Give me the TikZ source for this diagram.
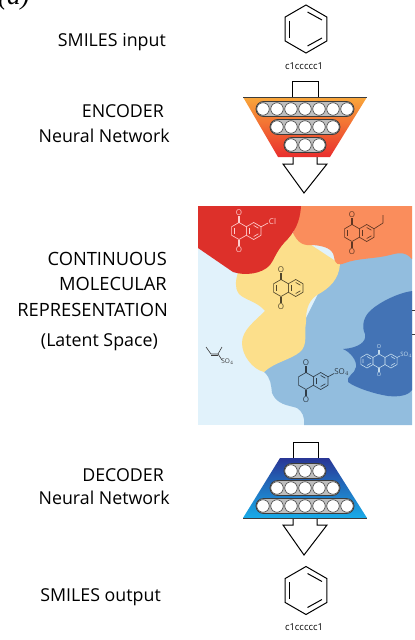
\documentclass[tikz,border=0pt]{standalone}
\usepackage{fontspec}
\setmainfont{Open Sans}
\newfontfamily\serifit{Liberation Serif}
\usetikzlibrary{positioning}
\usetikzlibrary{shapes.geometric}
\definecolor{cred}{RGB}{221, 48, 42}
\definecolor{corange}{RGB}{250, 141, 92}
\definecolor{cyellow}{RGB}{252, 223, 139}
\definecolor{cpale}{RGB}{225, 242, 251}
\definecolor{cmid}{RGB}{146, 189, 222}
\definecolor{cdeep}{RGB}{67, 115, 181}
\definecolor{cpill}{RGB}{190, 190, 190}
\definecolor{cline}{RGB}{60, 60, 60}
\definecolor{cenctop}{RGB}{249, 163, 50}
\definecolor{cencmid}{RGB}{242, 105, 42}
\definecolor{cencbot}{RGB}{232, 38, 36}
\definecolor{cdectop}{RGB}{32, 46, 145}
\definecolor{cdecmid}{RGB}{24, 105, 195}
\definecolor{cdecbot}{RGB}{16, 168, 232}
\tikzset{
	label text/.style={font=\fontsize{17.8}{20}\selectfont, inner sep=0pt, anchor=east},
	wide text/.style={font=\fontsize{18.3}{20}\selectfont, inner sep=0pt, anchor=east},
	smiles text/.style={font=\fontsize{9.5}{10}\selectfont, inner sep=0pt},
	net line/.style={line width=1pt, color=black, line join=miter},
	arrow shape/.style={line width=1pt, draw=black, fill=white},
	pill/.style={rounded corners=7.5pt, line width=0.8pt, draw=cline, fill=cpill},
	neuron/.style={circle, minimum size=12.5pt, inner sep=0pt, line width=0.6pt, draw=cline, fill=white},
	mol/.style={line width=0.65pt, line join=round},
	atom/.style={font=\fontsize{8}{8}\selectfont, inner sep=0pt}
}
% one hexagon ring of a molecule, centre #1, radius #2
\newcommand{\hexring}[2]{\draw[shift={#1}] (90:#2)--(30:#2)--(-30:#2)--(-90:#2)--(-150:#2)--(150:#2)--cycle;}
% ring system with two carbonyls, left ring at the origin
\newcommand{\quinone}{
	\hexring{(0,0)}{8.5}
	\hexring{(14.7,0)}{8.5}
	\draw (14.7,-5.5)--(19.4,-2.8);
	\draw (14.7,5.5)--(19.4,2.8);
	\draw (10.1,-2.8)--(10.1,2.8);
	\draw (-0.8,-8.5)--(-0.8,-15) (0.8,-8.5)--(0.8,-15);
	\draw (-0.8,8.5)--(-0.8,15) (0.8,8.5)--(0.8,15);
	\node (otop) [atom] at (0,-18.5) {O};
	\node (obot) [atom] at (0,18.5) {O};
}
\newcommand{\enebond}{\draw (-4.6,-2.8)--(-4.6,2.8);}
% benzene with its three inner bonds
\newcommand{\benzene}[1]{
	\begin{scope}[shift={#1}, line width=1pt]
		\hexring{(0,0)}{24}
		\draw (-17,-8.5)--(-17,8.5);
		\draw (1.5,-17)--(16,-9);
		\draw (1.5,17)--(16,9);
	\end{scope}
}
% row of neurons in a pill, centred on x=305
\newcommand{\neurons}[3]{
	\draw[pill] ({305-#2*14-7},#1-7.5) rectangle ({305+#2*14+7},#1+7.5);
	\foreach \k in {1,...,#3} {
		\node (n#1-\k) [neuron] at ({305+(\k-1-#2)*14},#1) {};
	}
}
\begin{document}
\begin{tikzpicture}[x=1pt,y=-1pt]
	\useasboundingbox (0,0) rectangle (415,640);
	\node (panel) [inner sep=0pt, anchor=west, font=\serifit\itshape\fontsize{27}{28}\selectfont] at (-2,-2) {(a)};

	% labels
	\node (input) [label text] at (166,42.5) {SMILES input};
	\node (enc1) [label text] at (164,111) {ENCODER};
	\node (enc2) [label text] at (170,135.5) {Neural Network};
	\node (cont1) [wide text] at (167,259) {CONTINUOUS};
	\node (cont2) [wide text] at (167,284) {MOLECULAR};
	\node (cont3) [wide text] at (168,310) {REPRESENTATION};
	\node (cont4) [label text] at (158,342) {(Latent Space)};
	\node (dec1) [label text] at (164,475) {DECODER};
	\node (dec2) [label text] at (170,497.5) {Neural Network};
	\node (output) [label text] at (161,597.5) {SMILES output};

	% encoder
	\benzene{(306,29)}
	\node (insmiles) [smiles text] at (304,66) {c1ccccc1};
	\draw [net line] (292.5,97) -- (292.5,81) -- (318,81) -- (318,97);
	\draw [arrow shape] (293,157) -- (293,164) -- (283,164) -- (304,193) -- (327,164) -- (317,164) -- (317,157);
	\shade [top color=cenctop, middle color=cencmid, bottom color=cencbot, opacity=0.96] (243,97) -- (367,97) -- (330,157) -- (278,157) -- cycle;
	\draw [line width=0.5pt, color=cline] (243,97) -- (367,97);
	\neurons{109}{3}{7}
	\neurons{127}{2}{5}
	\neurons{145}{1}{3}

	% latent space
	\fill [cpale] (198,206) rectangle (412,425);
	\fill [cmid] (340,250) -- (412,250) -- (412,425) -- (304,425)
		.. controls (305,417) and (302,411) .. (297,408)
		.. controls (288,405) and (277,405) .. (272,393)
		.. controls (271,385) and (271,378) .. (264,372) -- (300,330) -- cycle;
	\fill [cdeep] (412,291) .. controls (398,293) and (380,302) .. (371,310)
		.. controls (364,316) and (361,326) .. (365,334)
		.. controls (367,342) and (358,348) .. (343,349)
		.. controls (350,352) and (357,360) .. (356,367)
		.. controls (355,374) and (346,376) .. (348,382)
		.. controls (356,388) and (375,394) .. (388,396)
		.. controls (398,397) and (408,396) .. (412,390) -- cycle;
	\fill [cyellow] (293,233) -- (340,264)
		.. controls (339,279) and (330,288) .. (317,295)
		.. controls (306,302) and (306,315) .. (306,322)
		.. controls (304,335) and (308,345) .. (300,352)
		.. controls (290,360) and (275,362) .. (264,372)
		.. controls (252,369) and (242,355) .. (242,343)
		.. controls (242,330) and (255,321) .. (265,311)
		.. controls (258,302) and (245,300) .. (239,294)
		.. controls (234,287) and (236,280) .. (238,272) -- cycle;
	\fill [corange] (301,206) -- (412,206) -- (412,259)
		.. controls (405,251) and (398,253) .. (390,255)
		.. controls (375,259) and (358,258) .. (345,263)
		.. controls (338,266) and (335,264) .. (334,257)
		.. controls (333,249) and (325,246) .. (313,245)
		.. controls (303,246) and (298,243) .. (293,233) -- cycle;
	\fill [cred] (198,206) -- (301,206)
		.. controls (300,222) and (295,232) .. (284,243)
		.. controls (276,252) and (274,260) .. (270,265)
		.. controls (262,274) and (245,276) .. (233,272) -- (198,248) -- cycle;
	\draw [line width=0.7pt, color=cline] (412,310) -- (415,310);
	\draw [line width=0.7pt, color=cline] (412,334) -- (415,334);

	% molecules
	\begin{scope}[shift={(239,231)}, mol, color=red!20!white]
		\quinone \enebond
		\draw (22.1,-4.25) -- (29,-8);
		\node (cl) [atom] at (33.5,-10) {Cl};
	\end{scope}
	\begin{scope}[shift={(352,233)}, mol, color=black!62!corange]
		\quinone \enebond
		\draw (22.1,-4.25) -- (31,-10) -- (31,-18);
	\end{scope}
	\begin{scope}[shift={(281,288)}, mol, color=black!68!cyellow]
		\quinone \enebond
	\end{scope}
	\begin{scope}[shift={(306,381)}, mol, color=black!68!cmid]
		\quinone
		\draw (22.1,-4.25) -- (28,-7.5);
		\node (so1) [atom, anchor=west] at (28,-8.5) {SO$_4$};
	\end{scope}
	\begin{scope}[shift={(379,361)}, mol, color=cmid!55!white, line width=0.6pt]
		\hexring{(-12,0)}{7}
		\hexring{(0,0)}{7}
		\hexring{(12,0)}{7}
		\draw (-0.6,-7) -- (-0.6,-11) (0.6,-7) -- (0.6,-11);
		\draw (-0.6,7) -- (-0.6,11) (0.6,7) -- (0.6,11);
		\draw (-12,-4.5) -- (-8,-2.2) (-12,4.5) -- (-8,2.2) (-16,-2.2) -- (-16,2.2);
		\draw (12,-4.5) -- (16,-2.2) (12,4.5) -- (16,2.2);
		\draw (18,-3.5) -- (21,-5);
		\node (oa) [atom, font=\fontsize{5.5}{6}\selectfont] at (0,-14) {O};
		\node (ob) [atom, font=\fontsize{5.5}{6}\selectfont] at (0,14) {O};
		\node (so2) [atom, anchor=west, font=\fontsize{6}{6}\selectfont] at (21,-6) {SO$_4$};
	\end{scope}
	\begin{scope}[mol, color=cline, line width=0.6pt]
		\draw (206,347) -- (211,354) -- (218,354) -- (222,347);
		\draw (211,355.5) -- (218,355.5);
		\draw (218,354) -- (222,360);
		\node (so3) [atom, anchor=west, font=\fontsize{6.5}{6}\selectfont] at (221,362) {SO$_4$};
	\end{scope}

	% decoder
	\draw [net line] (293,458) -- (293,442) -- (318,442) -- (318,458);
	\draw [arrow shape] (293,518) -- (293,525) -- (283,525) -- (304,555) -- (327,525) -- (317,525) -- (317,518);
	\shade [top color=cdectop, middle color=cdecmid, bottom color=cdecbot, opacity=0.96] (280,458) -- (329,458) -- (367,518) -- (243,518) -- cycle;
	\draw [line width=0.5pt, color=cline] (243,518) -- (367,518);
	\neurons{471}{1}{3}
	\neurons{488}{2}{5}
	\neurons{506}{3}{7}
	\benzene{(306,590.5)}
	\node (outsmiles) [smiles text] at (304,627) {c1ccccc1};
\end{tikzpicture}
\end{document}
